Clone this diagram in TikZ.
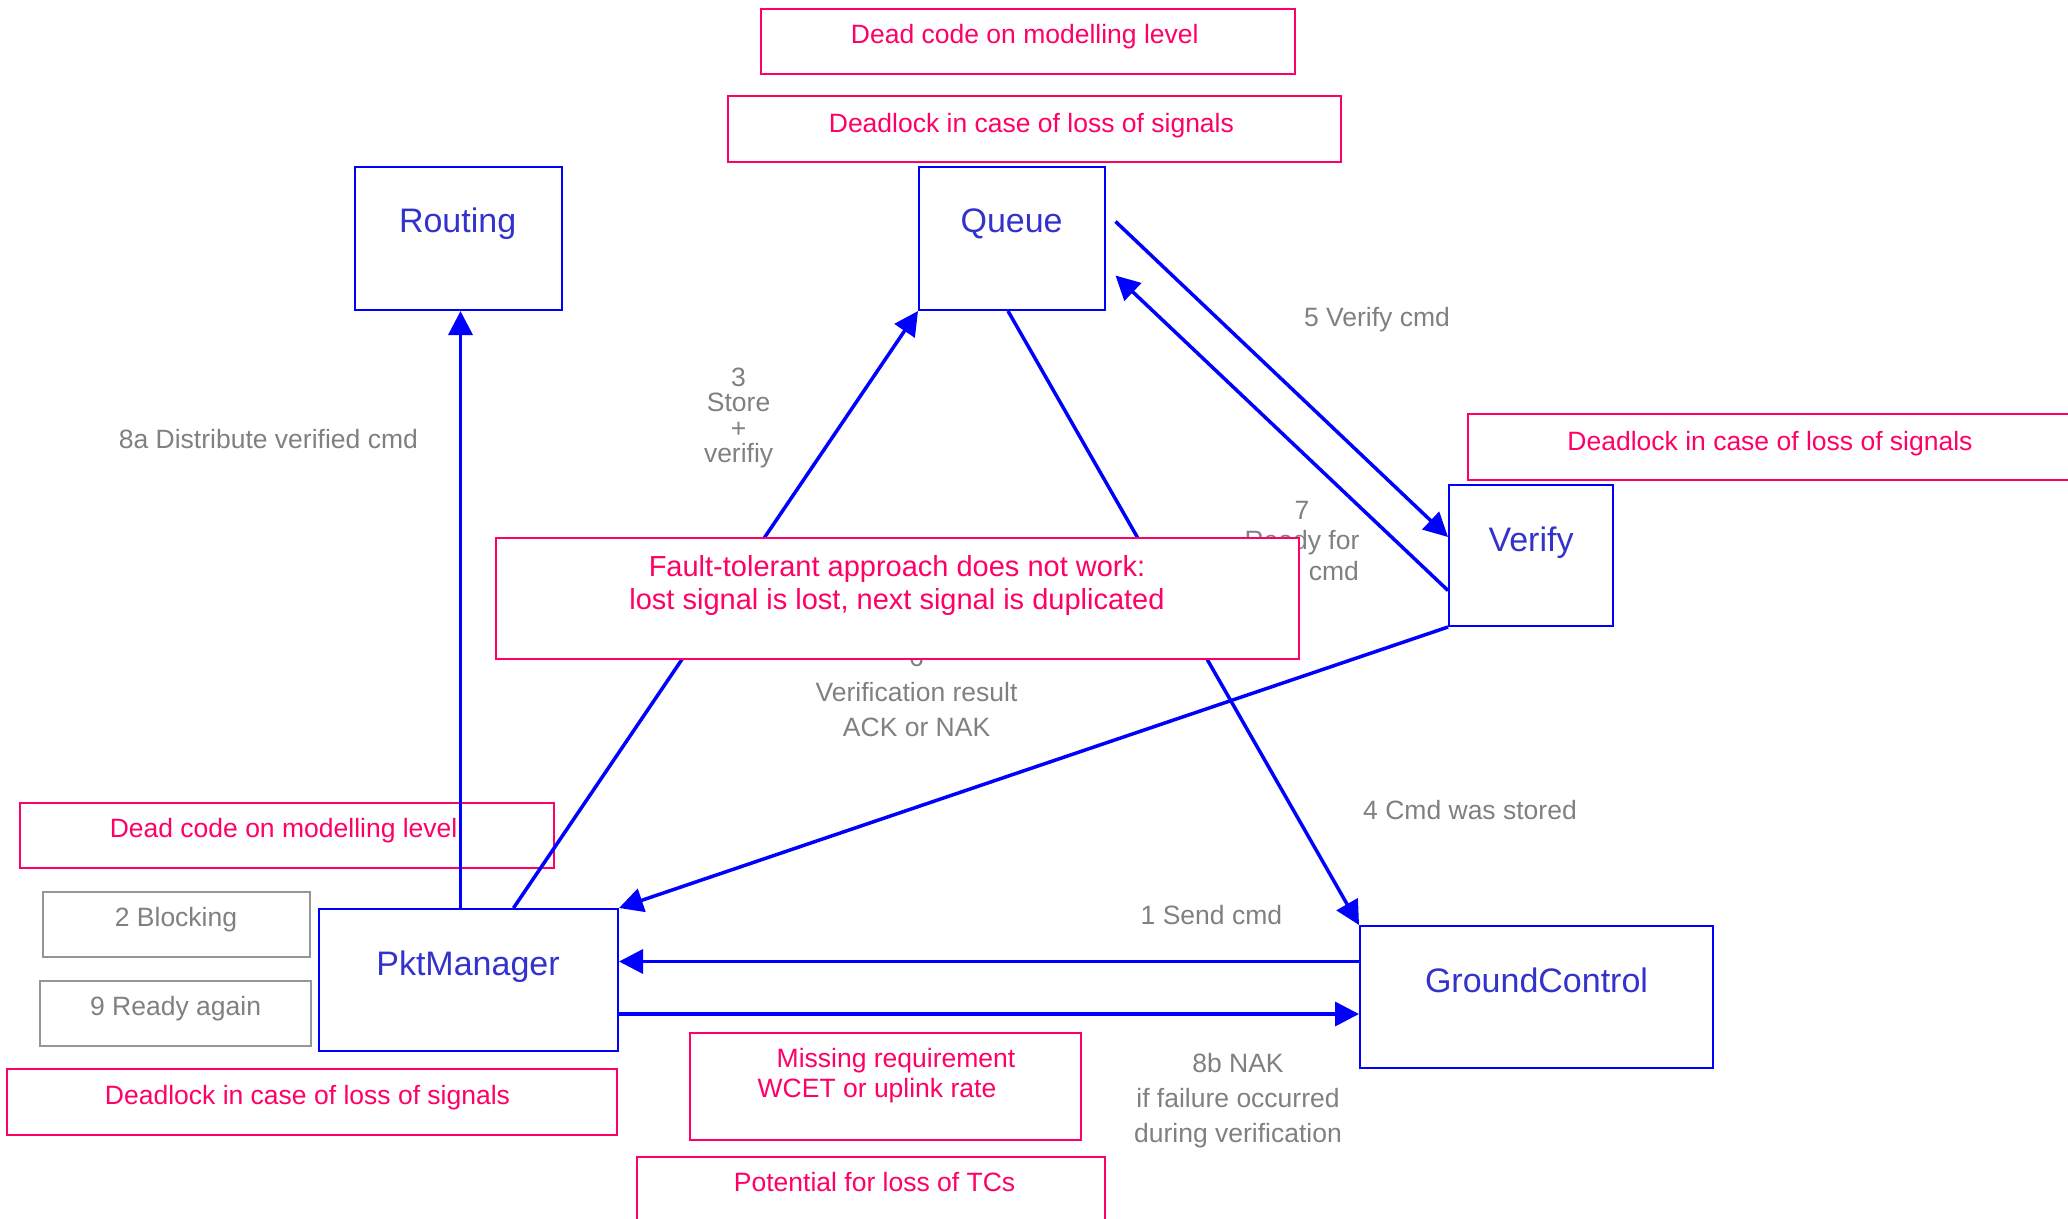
\documentclass[tikz,border=0pt]{standalone}
\usepackage{fontspec}
\setmainfont{Liberation Sans}
\usetikzlibrary{arrows.meta,calc}
\definecolor{unitblue}{RGB}{0,0,255}
\definecolor{titleblue}{RGB}{51,51,204}
\definecolor{issuered}{RGB}{255,0,102}
\definecolor{notegray}{RGB}{128,128,128}
\definecolor{framegray}{RGB}{150,150,150}

\begin{document}
\begin{tikzpicture}[x=1pt,y=-1pt,
  unit/.style={draw=unitblue, line width=2pt, inner sep=0pt},
  issue/.style={draw=issuered, line width=2pt, inner sep=0pt},
  note/.style={draw=framegray, line width=2pt, inner sep=0pt},
  title/.style={text=titleblue, font=\fontsize{34}{40}\selectfont,
    inner sep=0pt, text height=24.5pt, text depth=0pt},
  gline/.style={text=notegray, font=\fontsize{26.5}{32}\selectfont,
    inner sep=0pt, text height=19pt, text depth=0pt},
  rline/.style={text=issuered, font=\fontsize{26.5}{32}\selectfont,
    inner sep=0pt, text height=19pt, text depth=0pt},
  gmulti/.style={text=notegray, font=\fontsize{26.5}{#1}\selectfont,
    inner sep=0pt, align=center},
  gmulti/.default=35,
  conn/.style={draw=unitblue, line width=3.5pt,
    -{Triangle[length=24pt,width=24pt]}},
]
\useasboundingbox (0,0) rectangle (2068,1218);

% ---- system units ----
\node[unit, minimum width=207pt, minimum height=143pt] (routing) at (458.5,238.5) {};
\node[unit, minimum width=186pt, minimum height=143pt] (queue)   at (1012,238.5) {};
\node[unit, minimum width=164pt, minimum height=141pt] (verify)  at (1531,555.5) {};
\node[unit, minimum width=299pt, minimum height=142pt] (pkt)     at (468.5,980) {};
\node[unit, minimum width=353pt, minimum height=142pt] (gc)      at (1536.5,997) {};

\node[title] (routingT) at (457.6,220)  {Routing};
\node[title] (queueT)   at (1011.6,220) {Queue};
\node[title] (verifyT)  at (1531,539.5) {Verify};
\node[title] (pktT)     at (468,963)    {PktManager};
\node[title] (gcT)      at (1536.5,980) {GroundControl};

% ---- issue and state boxes (frames only) ----
\node[issue, minimum width=534pt, minimum height=65pt] (deadTop)   at (1028,41.5) {};
\node[issue, minimum width=613pt, minimum height=66pt] (lockTop)   at (1034.5,129) {};
\node[issue, minimum width=612pt, minimum height=66pt] (lockRight) at (1774,447) {};
\node[issue, minimum width=534pt, minimum height=65pt] (deadLeft)  at (287,835.5) {};
\node[note,  minimum width=267pt, minimum height=65pt] (blocking)  at (176.5,924.5) {};
\node[note,  minimum width=271pt, minimum height=65pt] (readyAg)   at (175.5,1013.5) {};
\node[issue, minimum width=610pt, minimum height=66pt] (lockLeft)  at (312,1102) {};
\node[issue, minimum width=391pt, minimum height=107pt] (missing)  at (885.5,1086.5) {};
\node[issue, minimum width=468pt, minimum height=78pt] (potential) at (871,1196) {};

\node[rline] (deadTopT)   at (1024.8,34.3) {Dead code on modelling level};
\node[rline] (lockTopT)   at (1031.4,122.7) {Deadlock in case of loss of signals};
\node[rline] (lockRightT) at (1770,440.5) {Deadlock in case of loss of signals};
\node[rline] (deadLeftT)  at (283.6,828.3) {Dead code on modelling level};
\node[gline] (blockingT)  at (176,917) {2 Blocking};
\node[gline] (readyAgT)   at (175.6,1005.5) {9 Ready again};
\node[rline] (lockLeftT)  at (307.5,1094.8) {Deadlock in case of loss of signals};
\node[rline] (missingA)   at (896,1058) {Missing requirement};
\node[rline] (missingB)   at (877,1088) {WCET or uplink rate};
\node[rline] (potentialT) at (874.6,1182) {Potential for loss of TCs};

% ---- messages ----
\coordinate (rtA) at ($(routing.south)+(2,0)$);
\draw[conn] (rtA |- pkt.north) -- (rtA);
\draw[conn] ($(pkt.north)+(45,0)$) -- (queue.south west);
\draw[conn] ($(queue.south)+(-4,0)$) -- (gc.north west);
\draw[conn] ($(queue.east)+(9.5,-17)$) -- ($(verify.west)+(0,-18.5)$);
\draw[conn] ($(verify.west)+(0,35)$) -- ($(queue.east)+(9.5,37)$);
\draw[conn] (verify.south west) -- (pkt.north east);
\coordinate (gcA) at ($(gc.west)+(0,-35.5)$);
\draw[conn] (gcA) -- (gcA -| pkt.east);
\coordinate (pkB) at ($(pkt.east)+(0,34)$);
\draw[conn] (pkB) -- (pkB -| gc.west);

% ---- message labels ----
\node[gline] (m8a) at (268.4,439.2) {8a Distribute verified cmd};
\node[gmulti=25.5] (m3) at (738.6,418) {3\\Store\\+\\verifiy};
\node[gline] (m5) at (1377,317) {5 Verify cmd};
\node[gmulti=29.5] (m7) at (1302,528) {7\\Ready for};
\node[gline, anchor=east] (m7b) at (1359,570.5) {cmd};
\node[gmulti=35] (m6) at (916.6,692) {6\\Verification result\\ACK or NAK};
\node[gline] (m4) at (1470,809.8) {4 Cmd was stored};
\node[gline] (m1) at (1211.4,915.3) {1 Send cmd};
\node[gmulti=35] (m8b) at (1238,1100.7) {8b NAK\\if failure occurred\\during verification};

% ---- central finding, drawn on top ----
\node[issue, fill=white, minimum width=803pt, minimum height=121pt] (fault) at (897.5,598.5) {};
\node[text=issuered, font=\fontsize{29}{33}\selectfont, inner sep=0pt, align=center]
  (faultT) at (897,585.5) {Fault-tolerant approach does not work:\\lost signal is lost, next signal is duplicated};
\end{tikzpicture}
\end{document}
